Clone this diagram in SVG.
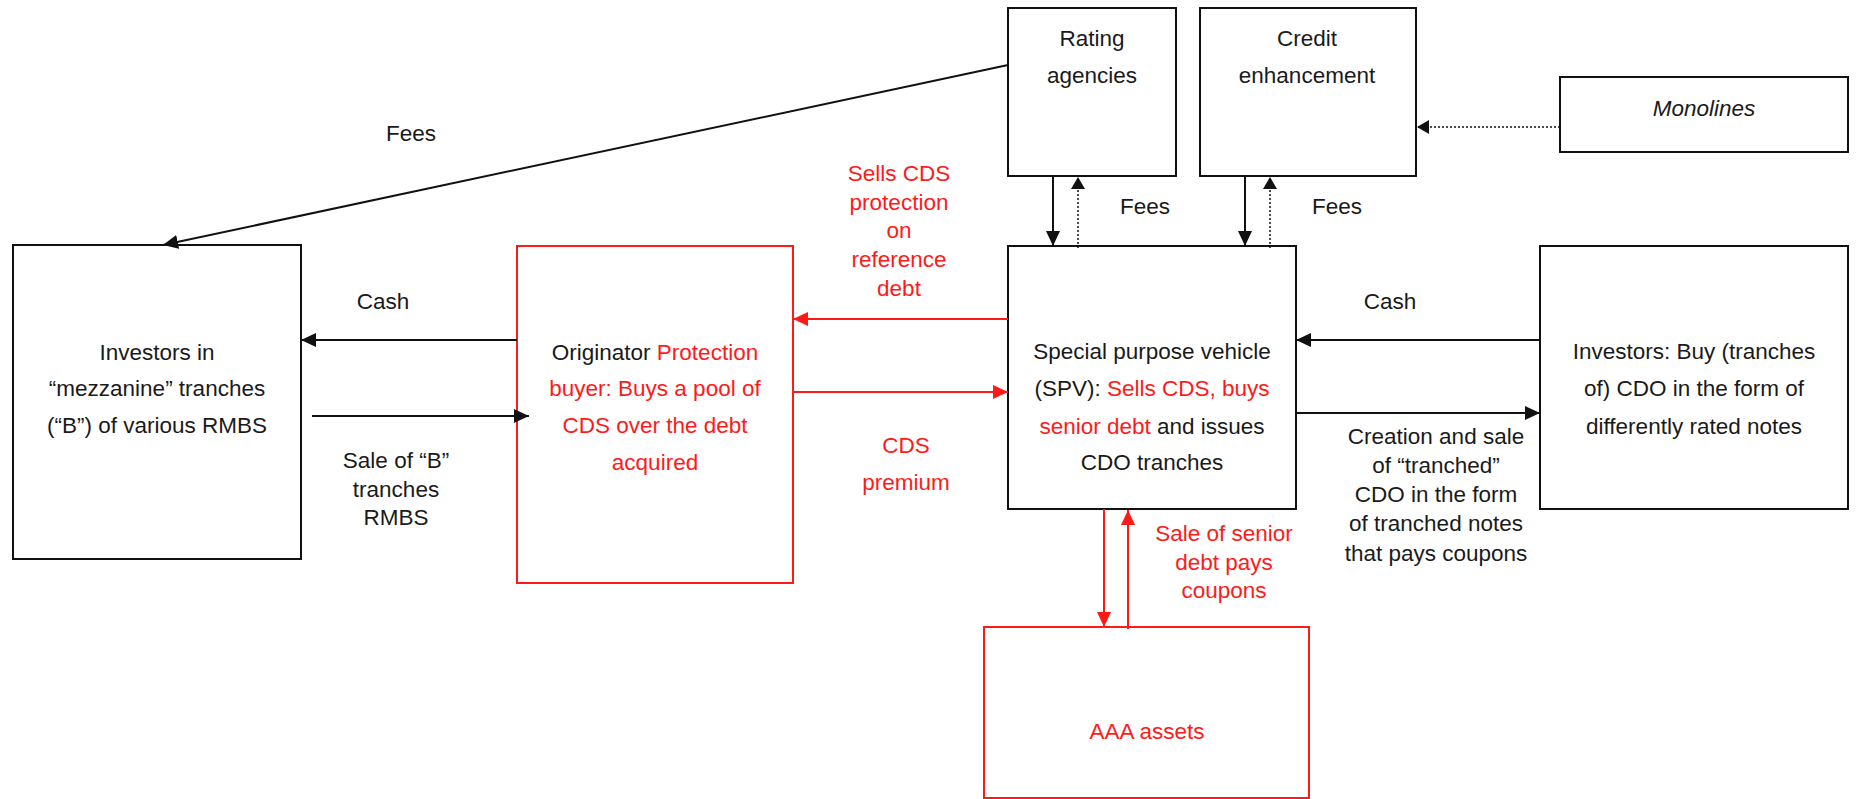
<svg xmlns="http://www.w3.org/2000/svg" width="1856" height="799" viewBox="0 0 1856 799">
<style>
text{font-family:"Liberation Sans",Arial,sans-serif;font-size:22.5px;fill:#1a1a1a;text-anchor:middle}
.r{fill:#ff1a1a}
.box{fill:#fff;stroke:#111;stroke-width:2}
.rbox{fill:#fff;stroke:#ff1a1a;stroke-width:2}
.ln{stroke:#111;stroke-width:2;fill:none}
.rl{stroke:#ff1a1a;stroke-width:2;fill:none}
.dt{stroke:#111;stroke-width:1.5;stroke-dasharray:2 2;fill:none}
</style>
<defs>
<marker id="ab" markerUnits="userSpaceOnUse" markerWidth="16" markerHeight="16" viewBox="0 0 16 16" refX="15" refY="8" orient="auto"><path d="M0,1 L15,8 L0,15 Z" fill="#111"/></marker>
<marker id="ar" markerUnits="userSpaceOnUse" markerWidth="16" markerHeight="16" viewBox="0 0 16 16" refX="15" refY="8" orient="auto"><path d="M0,1 L15,8 L0,15 Z" fill="#ff1a1a"/></marker>
<marker id="ad" markerUnits="userSpaceOnUse" markerWidth="16" markerHeight="16" viewBox="0 0 16 16" refX="12" refY="8" orient="auto"><path d="M0,1 L12,8 L0,15 Z" fill="#111"/></marker>
</defs>
<g id="rating"><rect class="box" x="1008" y="8" width="168" height="168"/><text x="1092" y="46">Rating</text><text x="1092" y="83">agencies</text></g>
<g id="credit"><rect class="box" x="1200" y="8" width="216" height="168"/><text x="1307" y="46">Credit</text><text x="1307" y="83">enhancement</text></g>
<g id="monolines"><rect class="box" x="1560" y="77" width="288" height="75"/><text x="1704" y="116" font-style="italic">Monolines</text></g>
<g id="investors-mezz"><rect class="box" x="13" y="245" width="288" height="314"/><text x="157" y="360">Investors in</text><text x="157" y="396">“mezzanine” tranches</text><text x="157" y="433">(“B”) of various RMBS</text></g>
<g id="originator"><rect class="rbox" x="517" y="246" width="276" height="337"/><text x="655" y="360">Originator <tspan class="r">Protection</tspan></text><text x="655" y="396" class="r">buyer: Buys a pool of</text><text x="655" y="433" class="r">CDS over the debt</text><text x="655" y="470" class="r">acquired</text></g>
<g id="spv"><rect class="box" x="1008" y="246" width="288" height="263"/><text x="1152" y="359">Special purpose vehicle</text><text x="1152" y="396">(SPV): <tspan class="r">Sells CDS, buys</tspan></text><text x="1152" y="434"><tspan class="r">senior debt</tspan> and issues</text><text x="1152" y="470">CDO tranches</text></g>
<g id="investors-cdo"><rect class="box" x="1540" y="246" width="308" height="263"/><text x="1694" y="359">Investors: Buy (tranches</text><text x="1694" y="396">of) CDO in the form of</text><text x="1694" y="434">differently rated notes</text></g>
<g id="aaa"><rect class="rbox" x="984" y="627" width="325" height="171"/><text x="1147" y="739" class="r">AAA assets</text></g>
<g id="connectors">
<line class="ln" x1="1008" y1="65" x2="163" y2="245" marker-end="url(#ab)"/>
<line class="ln" x1="1053" y1="176" x2="1053" y2="246" marker-end="url(#ab)"/>
<line class="dt" x1="1078" y1="248" x2="1078" y2="177" marker-end="url(#ad)"/>
<line class="ln" x1="1245" y1="176" x2="1245" y2="246" marker-end="url(#ab)"/>
<line class="dt" x1="1270" y1="248" x2="1270" y2="177" marker-end="url(#ad)"/>
<line class="dt" x1="1560" y1="127" x2="1417" y2="127" marker-end="url(#ad)"/>
<line class="ln" x1="517" y1="340" x2="301" y2="340" marker-end="url(#ab)"/>
<line class="ln" x1="312" y1="416" x2="529" y2="416" marker-end="url(#ab)"/>
<line class="rl" x1="1008" y1="319" x2="793" y2="319" marker-end="url(#ar)"/>
<line class="rl" x1="793" y1="392" x2="1008" y2="392" marker-end="url(#ar)"/>
<line class="ln" x1="1540" y1="340" x2="1296" y2="340" marker-end="url(#ab)"/>
<line class="ln" x1="1296" y1="413" x2="1540" y2="413" marker-end="url(#ab)"/>
<line class="rl" x1="1104" y1="509" x2="1104" y2="627" marker-end="url(#ar)"/>
<line class="rl" x1="1128" y1="629" x2="1128" y2="510" marker-end="url(#ar)"/>
</g>
<g id="labels">
<text x="411" y="141">Fees</text>
<text x="1145" y="214">Fees</text>
<text x="1337" y="214">Fees</text>
<text x="383" y="309">Cash</text>
<text x="1390" y="309">Cash</text>
<text x="396" y="468">Sale of “B”</text><text x="396" y="497">tranches</text><text x="396" y="525">RMBS</text>
<g class="r"><text class="r" x="899" y="181">Sells CDS</text><text class="r" x="899" y="210">protection</text><text class="r" x="899" y="238">on</text><text class="r" x="899" y="267">reference</text><text class="r" x="899" y="296">debt</text></g>
<text class="r" x="906" y="453">CDS</text><text class="r" x="906" y="490">premium</text>
<text x="1436" y="444">Creation and sale</text><text x="1436" y="473">of “tranched”</text><text x="1436" y="502">CDO in the form</text><text x="1436" y="531">of tranched notes</text><text x="1436" y="561">that pays coupons</text>
<text class="r" x="1224" y="541">Sale of senior</text><text class="r" x="1224" y="570">debt pays</text><text class="r" x="1224" y="598">coupons</text>
</g>
</svg>
